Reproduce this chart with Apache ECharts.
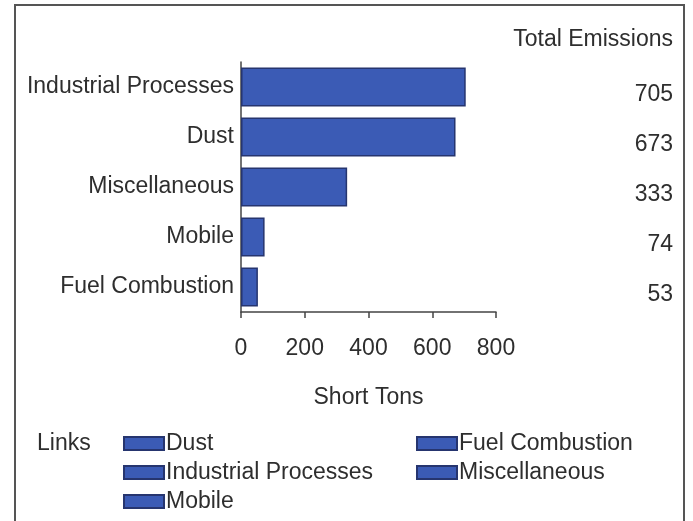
<!DOCTYPE html>
<html>
<head>
<meta charset="utf-8">
<script src="https://cdn.jsdelivr.net/npm/echarts@6/dist/echarts.min.js"></script>
<style>
html,body{margin:0;padding:0;background:#fff;}
#chart{width:693px;height:521px;}
</style>
</head>
<body>
<div id="chart"></div>
<script>
// Data
var categories = ['Industrial Processes', 'Dust', 'Miscellaneous', 'Mobile', 'Fuel Combustion'];
var values = [705, 673, 333, 74, 53];
var xTicks = [0, 200, 400, 600, 800];
var legendCol1 = ['Dust', 'Industrial Processes', 'Mobile'];
var legendCol2 = ['Fuel Combustion', 'Miscellaneous'];

var FONT = '"Liberation Sans", Arial, sans-serif';
var FS = 23;
var TXT = '#2e2e2e';
var BAR = '#3b5bb5';
var BARB = '#26356f';

var chart = echarts.init(document.getElementById('chart'), null, {renderer: 'canvas'});

var series = categories.map(function (name, i) {
  return {
    name: name,
    type: 'bar',
    stack: 'all',
    yAxisIndex: 0,
    barCategoryGap: '22%',
    itemStyle: {color: BAR, borderColor: BARB, borderWidth: 1.5},
    data: categories.map(function (c, j) { return j === i ? values[i] : '-'; })
  };
});

var option = {
  animation: false,
  textStyle: {fontFamily: FONT},
  title: {
    text: 'Total Emissions',
    right: 20, top: 28, padding: 0,
    textStyle: {fontFamily: FONT, fontSize: FS, fontWeight: 'normal', color: TXT}
  },
  grid: {left: 241, right: 197, top: 62, bottom: 209, containLabel: false},
  xAxis: {
    type: 'value',
    min: xTicks[0], max: xTicks[xTicks.length - 1], interval: 200,
    axisLine: {show: true, lineStyle: {color: '#444', width: 1.5}},
    axisTick: {show: true, length: 6, lineStyle: {color: '#444', width: 1.5}},
    splitLine: {show: false},
    axisLabel: {margin: 25, fontSize: FS, color: TXT, fontFamily: FONT},
    name: 'Short Tons',
    nameLocation: 'middle',
    nameGap: 74,
    nameTextStyle: {fontSize: FS, color: TXT, fontFamily: FONT}
  },
  yAxis: [{
    type: 'category',
    data: categories,
    inverse: true,
    axisLine: {show: true, lineStyle: {color: '#444', width: 1.5}},
    axisTick: {show: false},
    axisLabel: {margin: 7, fontSize: FS, color: TXT, fontFamily: FONT}
  }, {
    type: 'category',
    position: 'right',
    data: values.map(String),
    inverse: true,
    axisLine: {show: false},
    axisTick: {show: false},
    axisLabel: {margin: 177, align: 'right', verticalAlign: 'top', lineHeight: 16, fontSize: FS, color: TXT, fontFamily: FONT}
  }],
  legend: [{
    data: legendCol1,
    orient: 'vertical',
    left: 123, top: 432,
    padding: 0,
    itemWidth: 40, itemHeight: 13, itemGap: 6,
    icon: 'rect',
    selectedMode: false,
    textStyle: {fontSize: FS, color: TXT, fontFamily: FONT, padding: [0, 0, 0, -3]}
  }, {
    data: legendCol2,
    orient: 'vertical',
    left: 416, top: 432,
    padding: 0,
    itemWidth: 40, itemHeight: 13, itemGap: 6,
    icon: 'rect',
    selectedMode: false,
    textStyle: {fontSize: FS, color: TXT, fontFamily: FONT, padding: [0, 0, 0, -3]}
  }],
  graphic: [{
    type: 'rect',
    shape: {x: 15, y: 5, width: 669, height: 540},
    style: {fill: 'none', stroke: '#555', lineWidth: 2},
    silent: true
  }, {
    type: 'text',
    left: 37, top: 432,
    style: {text: 'Links', font: FS + 'px ' + FONT, fill: TXT}
  }],
  series: series
};
chart.setOption(option);
</script>
</body>
</html>
